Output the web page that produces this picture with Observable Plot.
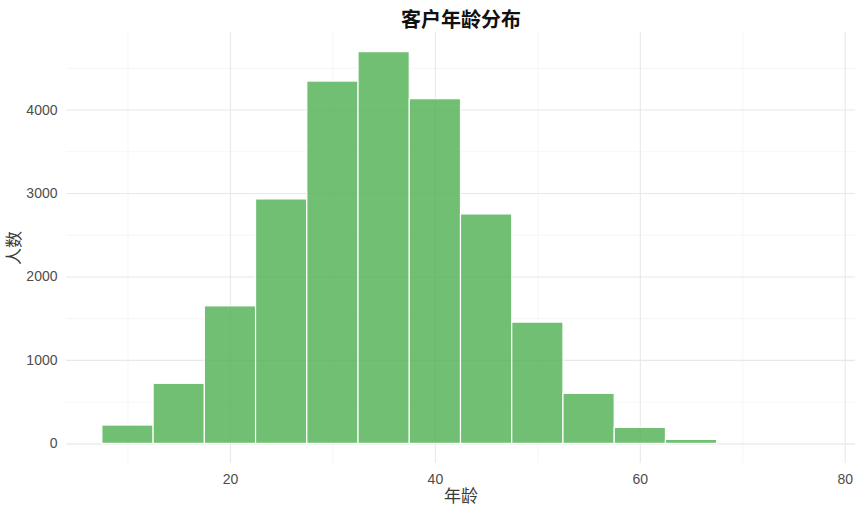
<!DOCTYPE html>
<html>
<head>
<meta charset="utf-8">
<script src="https://cdn.jsdelivr.net/npm/d3@7"></script>
<script src="https://cdn.jsdelivr.net/npm/@observablehq/plot@0.6"></script>
<style>
  html, body { margin: 0; padding: 0; background: #fff; }
  #chart svg { display: block; }
</style>
</head>
<body>
<div id="chart"></div>
<script>
// Histogram bins (age, width 5) and counts
const binStarts = [7.5, 12.5, 17.5, 22.5, 27.5, 32.5, 37.5, 42.5, 47.5, 52.5, 57.5, 62.5, 67.5, 72.5];
const binWidth = 5;
const counts = [220, 720, 1648, 2929, 4341, 4694, 4130, 2749, 1453, 600, 192, 48, 0, 0];
const xMajorTicks = [20, 40, 60, 80];
const xMinorTicks = [10, 30, 50, 70];
const yMajorTicks = [0, 1000, 2000, 3000, 4000];
const yMinorTicks = [500, 1500, 2500, 3500, 4500];
const title = "客户年龄分布";
const xLabel = "年龄";
const yLabel = "人数";

const bins = binStarts.map((s, i) => ({x1: s, x2: s + binWidth, count: counts[i]}));

const cjk = "'Noto Sans CJK SC', 'Noto Sans', sans-serif";
const latin = "'Liberation Sans', Arial, sans-serif";

const chart = Plot.plot({
  width: 856,
  height: 510,
  marginLeft: 66,
  marginRight: 1,
  marginTop: 32,
  marginBottom: 47,
  style: {fontFamily: latin, background: "#fff", overflow: "visible"},
  x: {domain: [4, 81], axis: null},
  y: {domain: [-235, 4929], axis: null},
  marks: [
    // minor grid
    Plot.gridX(xMinorTicks, {stroke: "#efefef", strokeOpacity: 1, strokeWidth: 0.6}),
    Plot.gridY(yMinorTicks, {stroke: "#efefef", strokeOpacity: 1, strokeWidth: 0.6}),
    // major grid
    Plot.gridX(xMajorTicks, {stroke: "#e8e8e8", strokeOpacity: 1, strokeWidth: 1.1}),
    Plot.gridY(yMajorTicks, {stroke: "#e8e8e8", strokeOpacity: 1, strokeWidth: 1.1}),
    // bars
    Plot.rectY(bins, {x1: "x1", x2: "x2", y1: 0, y2: "count", fill: "#4CAF50", fillOpacity: 0.8, stroke: "#ffffff", strokeWidth: 1.2}),
    // axis tick labels
    Plot.axisY(yMajorTicks, {tickSize: 0, tickPadding: 9, fontSize: 14, color: "#4d4d4d", label: null, fontFamily: latin, tickFormat: d => String(d)}),
    Plot.axisX(xMajorTicks, {tickSize: 0, tickPadding: 11, fontSize: 14, color: "#4d4d4d", label: null, fontFamily: latin, tickFormat: d => String(d)}),
    // title and axis titles
    Plot.text([title], {frameAnchor: "top", dy: -20, fontSize: 20, fontWeight: "bold", fill: "#111", fontFamily: cjk}),
    Plot.text([xLabel], {frameAnchor: "bottom", dy: 38, fontSize: 17, fill: "#3a3a3a", fontFamily: cjk}),
    Plot.text([yLabel], {frameAnchor: "left", dx: -52, dy: 17, rotate: -90, fontSize: 17, fill: "#3a3a3a", fontFamily: cjk})
  ]
});
document.getElementById("chart").appendChild(chart);
</script>
</body>
</html>
